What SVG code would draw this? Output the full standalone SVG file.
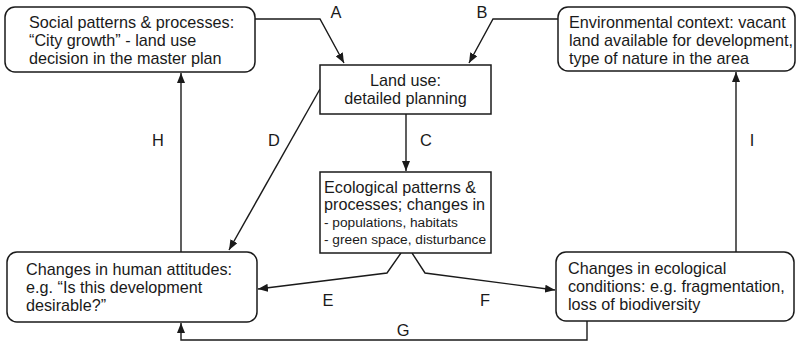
<svg xmlns="http://www.w3.org/2000/svg" width="797" height="348" viewBox="0 0 797 348">
<defs>
<marker id="ah" markerWidth="10" markerHeight="8" refX="10" refY="4" orient="auto" markerUnits="userSpaceOnUse">
<path d="M0,0 L10,4 L0,8 Z" fill="#1a1a1a"/>
</marker>
<style>
.box{fill:#fff;stroke:#1a1a1a;stroke-width:1.5}
.t{font-family:"Liberation Sans",Arial,sans-serif;font-size:16.2px;fill:#1a1a1a}
.s{font-size:13.7px}
.c{fill:none;stroke:#1a1a1a;stroke-width:1.4}
.lbl{font-family:"Liberation Sans",Arial,sans-serif;font-size:16.4px;fill:#1a1a1a;text-anchor:middle}
</style>
</defs>
<rect width="797" height="348" fill="#fff"/>
<g id="connectors">
<polyline class="c" points="255,19 320,19 344,63" marker-end="url(#ah)"/>
<polyline class="c" points="558,19 493,19 469,63" marker-end="url(#ah)"/>
<line class="c" x1="406" y1="114" x2="406" y2="171" marker-end="url(#ah)"/>
<line class="c" x1="320" y1="89" x2="229" y2="250" marker-end="url(#ah)"/>
<polyline class="c" points="401,253 387,273 258,289" marker-end="url(#ah)"/>
<polyline class="c" points="412,253 425,273 555,290" marker-end="url(#ah)"/>
<polyline class="c" points="587,321 587,340 181,340 181,323" marker-end="url(#ah)"/>
<line class="c" x1="181" y1="252" x2="181" y2="73" marker-end="url(#ah)"/>
<line class="c" x1="736" y1="252" x2="736" y2="72" marker-end="url(#ah)"/>
<text class="lbl" x="336" y="18">A</text>
<text class="lbl" x="482" y="18">B</text>
<text class="lbl" x="426" y="146">C</text>
<text class="lbl" x="274" y="146">D</text>
<text class="lbl" x="328" y="306">E</text>
<text class="lbl" x="485" y="306">F</text>
<text class="lbl" x="403" y="336">G</text>
<text class="lbl" x="158" y="146">H</text>
<text class="lbl" x="752" y="146">I</text>
</g>
<g id="social">
<rect class="box" x="5" y="7" width="250" height="65" rx="10"/>
<text class="t" x="29" y="28">Social patterns &amp; processes:</text>
<text class="t" x="29" y="46">“City growth” - land use</text>
<text class="t" x="29" y="64">decision in the master plan</text>
</g>
<g id="environment">
<rect class="box" x="558" y="7" width="237" height="64" rx="10"/>
<text class="t" x="569" y="28">Environmental context: vacant</text>
<text class="t" x="569" y="46">land available for development,</text>
<text class="t" x="569" y="64">type of nature in the area</text>
</g>
<g id="landuse">
<rect class="box" x="320" y="65" width="171" height="49"/>
<text class="t" x="405.5" y="86" text-anchor="middle">Land use:</text>
<text class="t" x="405.5" y="104" text-anchor="middle">detailed planning</text>
</g>
<g id="ecological">
<rect class="box" x="320" y="172" width="171" height="81"/>
<text class="t" x="324" y="193">Ecological patterns &amp;</text>
<text class="t" x="324" y="210">processes; changes in</text>
<text class="t s" x="324" y="227">- populations, habitats</text>
<text class="t s" x="324" y="244">- green space, disturbance</text>
</g>
<g id="human">
<rect class="box" x="7" y="252" width="250" height="70" rx="10"/>
<text class="t" x="26" y="275">Changes in human attitudes:</text>
<text class="t" x="26" y="293">e.g. “Is this development</text>
<text class="t" x="26" y="311">desirable?”</text>
</g>
<g id="conditions">
<rect class="box" x="556" y="252" width="238" height="69" rx="10"/>
<text class="t" x="568" y="274">Changes in ecological</text>
<text class="t" x="568" y="292">conditions: e.g. fragmentation,</text>
<text class="t" x="568" y="310">loss of biodiversity</text>
</g>
</svg>
